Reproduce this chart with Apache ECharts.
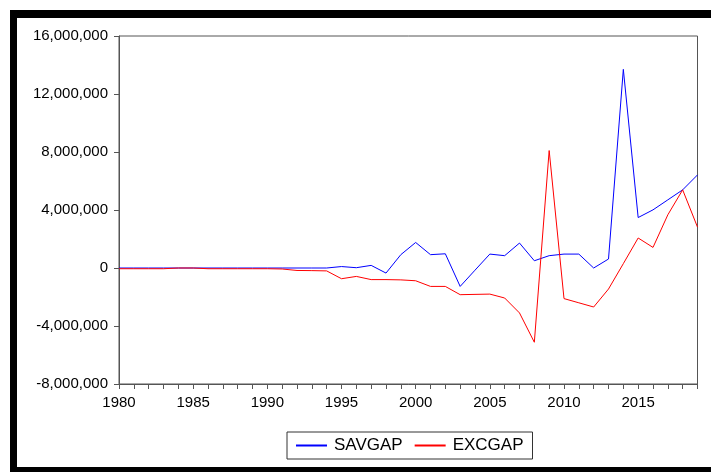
<!DOCTYPE html>
<html>
<head>
<meta charset="utf-8">
<script src="https://cdn.jsdelivr.net/npm/echarts@6/dist/echarts.min.js"></script>
<style>
html,body{margin:0;padding:0;background:#fff;}
#c{width:711px;height:472px;}
</style>
</head>
<body>
<div id="c"></div>
<script>
var years = [];
for (var y = 1980; y <= 2019; y++) years.push(String(y));

var seriesNames = ['SAVGAP', 'EXCGAP'];

// SAVGAP 1980..2019
var savgap = [
  0, 0, 0, 0, 0, 0, 0, 0, 0, 0,
  0, 0, 0, 0, 0, 100000, 20000, 180000, -350000, 920000,
  1760000, 920000, 980000, -1270000, -150000, 960000, 850000, 1720000, 500000, 850000,
  960000, 960000, 0, 620000, 13700000, 3480000, 4010000, 4700000, 5390000, 6420000
];

// EXCGAP 1980..2019
var excgap = [
  -50000, -50000, -50000, -50000, 0, 0, -50000, -50000, -50000, -50000,
  -50000, -70000, -170000, -180000, -200000, -740000, -580000, -800000, -800000, -820000,
  -880000, -1270000, -1270000, -1840000, -1820000, -1800000, -2070000, -3100000, -5120000, 8100000,
  -2110000, -2400000, -2690000, -1450000, 300000, 2070000, 1420000, 3670000, 5390000, 2820000
];

var yMin = -8000000, yMax = 16000000, yStep = 4000000;

function commas(v) {
  var s = String(Math.abs(v)).replace(/\B(?=(\d{3})+(?!\d))/g, ',');
  return (v < 0 ? '-' : '') + s;
}

var chart = echarts.init(document.getElementById('c'), null, {renderer: 'canvas'});
var font = '"Liberation Sans", Arial, sans-serif';
chart.setOption({
  animation: false,
  backgroundColor: '#ffffff',
  textStyle: {fontFamily: font},
  graphic: [
    {type: 'rect', shape: {x: 10, y: 10, width: 701, height: 8}, style: {fill: '#000'}},
    {type: 'rect', shape: {x: 10, y: 10, width: 7, height: 462}, style: {fill: '#000'}},
    {type: 'rect', shape: {x: 10, y: 467, width: 701, height: 5}, style: {fill: '#000'}}
  ],
  grid: {
    left: 119, right: 13.5, top: 36, bottom: 88,
    show: true, borderColor: '#555', borderWidth: 1, backgroundColor: 'transparent'
  },
  legend: {
    data: seriesNames,
    left: 287, top: 432,
    padding: [5, 9, 5, 9],
    itemWidth: 31, itemHeight: 2, itemGap: 12,
    icon: 'rect',
    borderColor: '#333', borderWidth: 1,
    textStyle: {fontSize: 17, color: '#000', fontFamily: font, padding: [0, 0, 0, 2]}
  },
  xAxis: {
    type: 'category',
    data: years,
    boundaryGap: false,
    axisLine: {show: true, onZero: false, lineStyle: {color: '#555', width: 1}},
    axisTick: {show: true, interval: 0, length: 5, lineStyle: {color: '#555'}},
    axisLabel: {interval: 4, fontSize: 15, color: '#000', margin: 11, fontFamily: font},
    splitLine: {show: false}
  },
  yAxis: {
    type: 'value',
    min: yMin, max: yMax, interval: yStep,
    axisLine: {show: true, lineStyle: {color: '#555', width: 1}},
    axisTick: {show: true, length: 5, lineStyle: {color: '#555'}},
    axisLabel: {fontSize: 15, color: '#000', margin: 11, fontFamily: font, formatter: commas},
    splitLine: {show: false}
  },
  series: [
    {name: seriesNames[0], type: 'line', data: savgap, symbol: 'none', showSymbol: false,
     lineStyle: {color: '#0000ff', width: 1}, itemStyle: {color: '#0000ff'}},
    {name: seriesNames[1], type: 'line', data: excgap, symbol: 'none', showSymbol: false,
     lineStyle: {color: '#ff0000', width: 1}, itemStyle: {color: '#ff0000'}}
  ]
});
</script>
</body>
</html>
